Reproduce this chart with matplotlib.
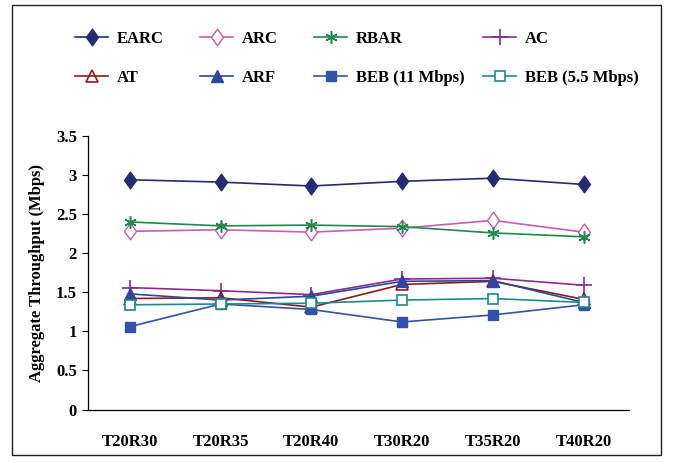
import matplotlib
matplotlib.use("Agg")
import matplotlib.pyplot as plt
from matplotlib.patches import Rectangle
from matplotlib.path import Path

plt.rcParams['font.family'] = ['Liberation Serif', 'DejaVu Serif']
plt.rcParams['font.weight'] = 'bold'

categories = ["T20R30", "T20R35", "T20R40", "T30R20", "T35R20", "T40R20"]
earc = [2.94, 2.91, 2.86, 2.92, 2.96, 2.88]
arc = [2.28, 2.30, 2.27, 2.32, 2.42, 2.27]
rbar = [2.40, 2.35, 2.36, 2.34, 2.26, 2.21]
ac = [1.56, 1.52, 1.47, 1.67, 1.68, 1.59]
at = [1.42, 1.43, 1.31, 1.60, 1.64, 1.41]
arf = [1.48, 1.40, 1.45, 1.64, 1.65, 1.37]
beb11 = [1.06, 1.35, 1.28, 1.12, 1.21, 1.34]
beb55 = [1.34, 1.35, 1.36, 1.40, 1.42, 1.37]
yticks = [0, 0.5, 1, 1.5, 2, 2.5, 3, 3.5]
ytick_labels = ["0", "0.5", "1", "1.5", "2", "2.5", "3", "3.5"]

W, H = 674, 462
fig = plt.figure(figsize=(W/100, H/100), dpi=100)
ax = fig.add_axes([88/W, 1-409.5/H, (629-88)/W, (409.5-136)/H])

diamond = Path([(0, 1), (0.72, 0), (0, -1), (-0.72, 0), (0, 1)],
               [Path.MOVETO, Path.LINETO, Path.LINETO, Path.LINETO, Path.CLOSEPOLY])

x = list(range(len(categories)))
styles = [
    ("EARC", earc, dict(color="#232C73", marker=diamond, markersize=12, mfc="#232C73", mec="#232C73")),
    ("ARC", arc, dict(color="#C85DB4", marker=diamond, markersize=12, mfc="white", mec="#C85DB4")),
    ("RBAR", rbar, dict(color="#1E8A4C", marker=(6, 2, 0), markersize=9, mfc="#1E8A4C", mec="#1E8A4C", mew=1.1)),
    ("AC", ac, dict(color="#8E2C8E", marker="+", markersize=11, mec="#8E2C8E", mew=1.2)),
    ("AT", at, dict(color="#8C1C1C", marker="^", markersize=8, mfc="none", mec="#8C1C1C", mew=1.2)),
    ("ARF", arf, dict(color="#2F45A0", marker="^", markersize=8, mfc="#2F45A0", mec="#2F45A0")),
    ("BEB (11 Mbps)", beb11, dict(color="#3352AA", marker="s", markersize=7, mfc="#3352AA", mec="#3352AA")),
    ("BEB (5.5 Mbps)", beb55, dict(color="#1A8C8C", marker="s", markersize=7, mfc="white", mec="#1A8C8C", mew=1.2)),
]
handles = []
for name, vals, st in styles:
    h, = ax.plot(x, vals, lw=1.2, label=name, clip_on=False, **st)
    handles.append(h)

ax.set_xlim(-0.46, 5.5)
ax.set_ylim(0, 3.5)
ax.set_yticks(yticks)
ax.set_yticklabels(ytick_labels, fontsize=12, fontweight='bold')
ax.set_xticks(x)
ax.set_xticklabels(categories, fontsize=12, fontweight='bold')
ax.tick_params(axis='x', length=0, pad=18)
ax.tick_params(axis='y', length=4, width=0.8, pad=4, direction='out')
ax.spines['top'].set_visible(False)
ax.spines['right'].set_visible(False)
ax.spines['left'].set_linewidth(0.9)
ax.spines['bottom'].set_linewidth(0.9)
ax.set_ylabel("Aggregate Throughput (Mbps)", fontsize=12, fontweight='bold', labelpad=8)

# legend: four columns, two rows each
col_x = [75, 200, 314, 483]
for c in range(4):
    hs = [handles[c], handles[c + 4]]
    fig.legend(handles=hs, labels=[h.get_label() for h in hs],
               loc='upper left', bbox_to_anchor=(col_x[c]/W, 1-31/H),
               frameon=False, prop=dict(size=12, weight='bold'),
               handlelength=2.0, handletextpad=0.5, labelspacing=1.35,
               borderpad=0, borderaxespad=0)

fig.patches.append(Rectangle((12/W, 1-455/H), (661-12)/W, (455-5)/H,
                             transform=fig.transFigure, fill=False,
                             edgecolor='#222222', lw=1.0))
fig.savefig("out.png", dpi=100)
